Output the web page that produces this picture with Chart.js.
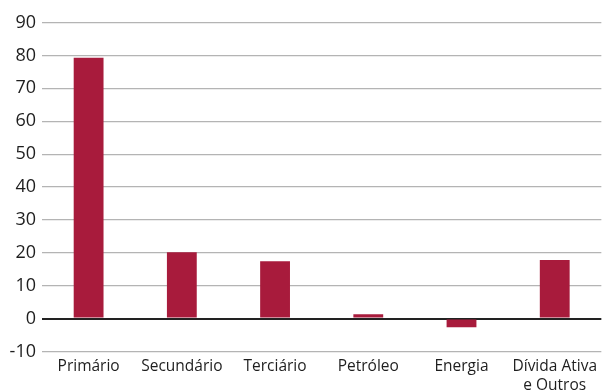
<!DOCTYPE html>
<html><head><meta charset="utf-8">
<script src="https://cdn.jsdelivr.net/npm/chart.js@4/dist/chart.umd.min.js"></script>
<style>html,body{margin:0;padding:0;background:#fff}#w{width:603px;height:390px}</style>
</head><body><div id="w"><canvas id="c"></canvas></div>
<script>
const categories = ["Primário", "Secundário", "Terciário", "Petróleo", "Energia", ["Dívida Ativa", "e Outros"]];
const values = [79.3, 20.2, 17.4, 1.3, -2.6, 17.8];
const yTicks = [-10, 0, 10, 20, 30, 40, 50, 60, 70, 80, 90];

new Chart(document.getElementById('c'), {
  type: 'bar',
  data: { labels: categories, datasets: [{ data: values, backgroundColor: '#A81B3C', barPercentage: 0.32, categoryPercentage: 1 }] },
  options: {
    responsive: true, maintainAspectRatio: false, animation: false,
    layout: { padding: { top: 22.5, right: 0, left: 0, bottom: 0 } },
    plugins: { legend: { display: false }, tooltip: { enabled: false } },
    scales: {
      x: {
        grid: { display: false, drawTicks: false },
        border: { display: false },
        ticks: { color: '#1e1e1e', font: { family: 'Open Sans', size: 15.5 }, padding: 6, maxRotation: 0, autoSkip: false },
        afterFit: s => { s.height = 38.5; }
      },
      y: {
        min: yTicks[0], max: yTicks[yTicks.length - 1],
        afterBuildTicks: s => { s.ticks = yTicks.map(v => ({ value: v })); },
        grid: {
          drawTicks: false,
          color: ctx => ctx.tick && ctx.tick.value === 0 ? '#222' : '#b4b4b4',
          lineWidth: ctx => ctx.tick && ctx.tick.value === 0 ? 2 : 1.2
        },
        border: { display: false },
        ticks: { color: '#1e1e1e', font: { family: 'Open Sans', size: 18 }, padding: 6 },
        afterFit: s => { s.width = 42; }
      }
    }
  }
});
</script></body></html>
